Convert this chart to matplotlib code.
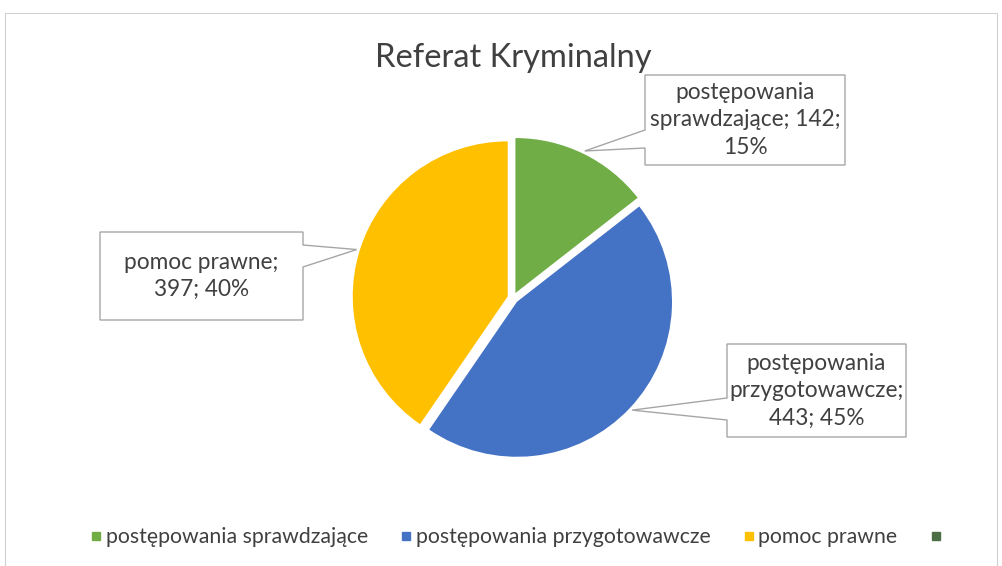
import matplotlib
matplotlib.use("Agg")
import matplotlib.pyplot as plt
from matplotlib.patches import Polygon, Rectangle
from matplotlib.lines import Line2D
import numpy as np

plt.rcParams["font.family"] = ["Lato", "DejaVu Sans"]

W, H = 1002, 566
TITLE = "Referat Kryminalny"

categories = ["postępowania sprawdzające", "postępowania przygotowawcze", "pomoc prawne"]
values = [142, 443, 397]
colors = ["#70AD47", "#4472C4", "#FFC000"]
extra_legend_color = "#4B6E44"   # empty 4th legend entry

# label line breaks as in the original callouts
label_templates = [
    "postępowania\nsprawdzające; {v};\n{p}",
    "postępowania\nprzygotowawcze;\n{v}; {p}",
    "pomoc prawne;\n{v}; {p}",
]

# callout boxes in image pixels: x0, y0, x1, y1, pointer side, pointer base y0, y1
callouts = [
    (645, 75, 845, 165, "left", 130, 148),
    (727, 344, 906, 437, "left", 398, 420),
    (100, 232, 303, 320, "right", 245, 267),
]

TEXT = "#404040"
EDGE = "#a6a6a6"


def rounded_percents(vals):
    # largest remainder, so labels add up to 100 like Excel shows
    raw = np.array(vals, dtype=float) / sum(vals) * 100
    base = np.floor(raw).astype(int)
    short = 100 - base.sum()
    order = np.argsort(-(raw - base))
    base[order[:short]] += 1
    return base


fig = plt.figure(figsize=(W / 100, H / 100), dpi=100)
ax = fig.add_axes([0, 0, 1, 1])

wedges, _ = ax.pie(values, colors=colors, startangle=90, counterclock=False,
                   center=(513, H - 298), radius=155, explode=[5.5] * 3,
                   wedgeprops=dict(linewidth=0))
ax.set_xlim(0, W)
ax.set_ylim(0, H)
ax.set_aspect("equal")
ax.axis("off")

# chart-area frame
ax.add_patch(Rectangle((5, -5), W - 10, H - 13 + 5, fill=False,
                       edgecolor="#d0d0d0", linewidth=0.8, zorder=0))

pcts = rounded_percents(values)
for w, v, p, tmpl, (x0, y0, x1, y1, side, ba, bb) in zip(
        wedges, values, pcts, label_templates, callouts):
    mid = np.deg2rad((w.theta1 + w.theta2) / 2)
    cx, cy = w.center
    apex = (cx + w.r * 1.02 * np.cos(mid), cy + w.r * 1.02 * np.sin(mid))
    top, bot = H - y0, H - y1
    if side == "left":
        pts = [(x0, top), (x1, top), (x1, bot), (x0, bot),
               (x0, H - bb), apex, (x0, H - ba)]
    else:
        pts = [(x0, top), (x1, top), (x1, H - ba), apex,
               (x1, H - bb), (x1, bot), (x0, bot)]
    ax.add_patch(Polygon(pts, closed=True, facecolor="white", edgecolor=EDGE,
                         linewidth=1.0, zorder=3))
    ax.text((x0 + x1) / 2, (top + bot) / 2, tmpl.format(v=v, p=f"{p}%"),
            ha="center", va="center", fontsize=16.3, color=TEXT,
            linespacing=1.38, zorder=4)

fig.text(513 / W, 1 - 58 / H, TITLE, ha="center", va="center",
         fontsize=23.5, color=TEXT)

handles = [Line2D([], [], marker="s", ls="", color=c, markersize=6)
           for c in colors + [extra_legend_color]]
fig.legend(handles, categories + [""], ncol=4, loc="center",
           bbox_to_anchor=(0.515, 1 - 537 / H), frameon=False,
           fontsize=15.3, handletextpad=0.0, columnspacing=1.35,
           labelcolor=TEXT, handlelength=0.9)

fig.savefig("out.png", dpi=100, facecolor="white")
